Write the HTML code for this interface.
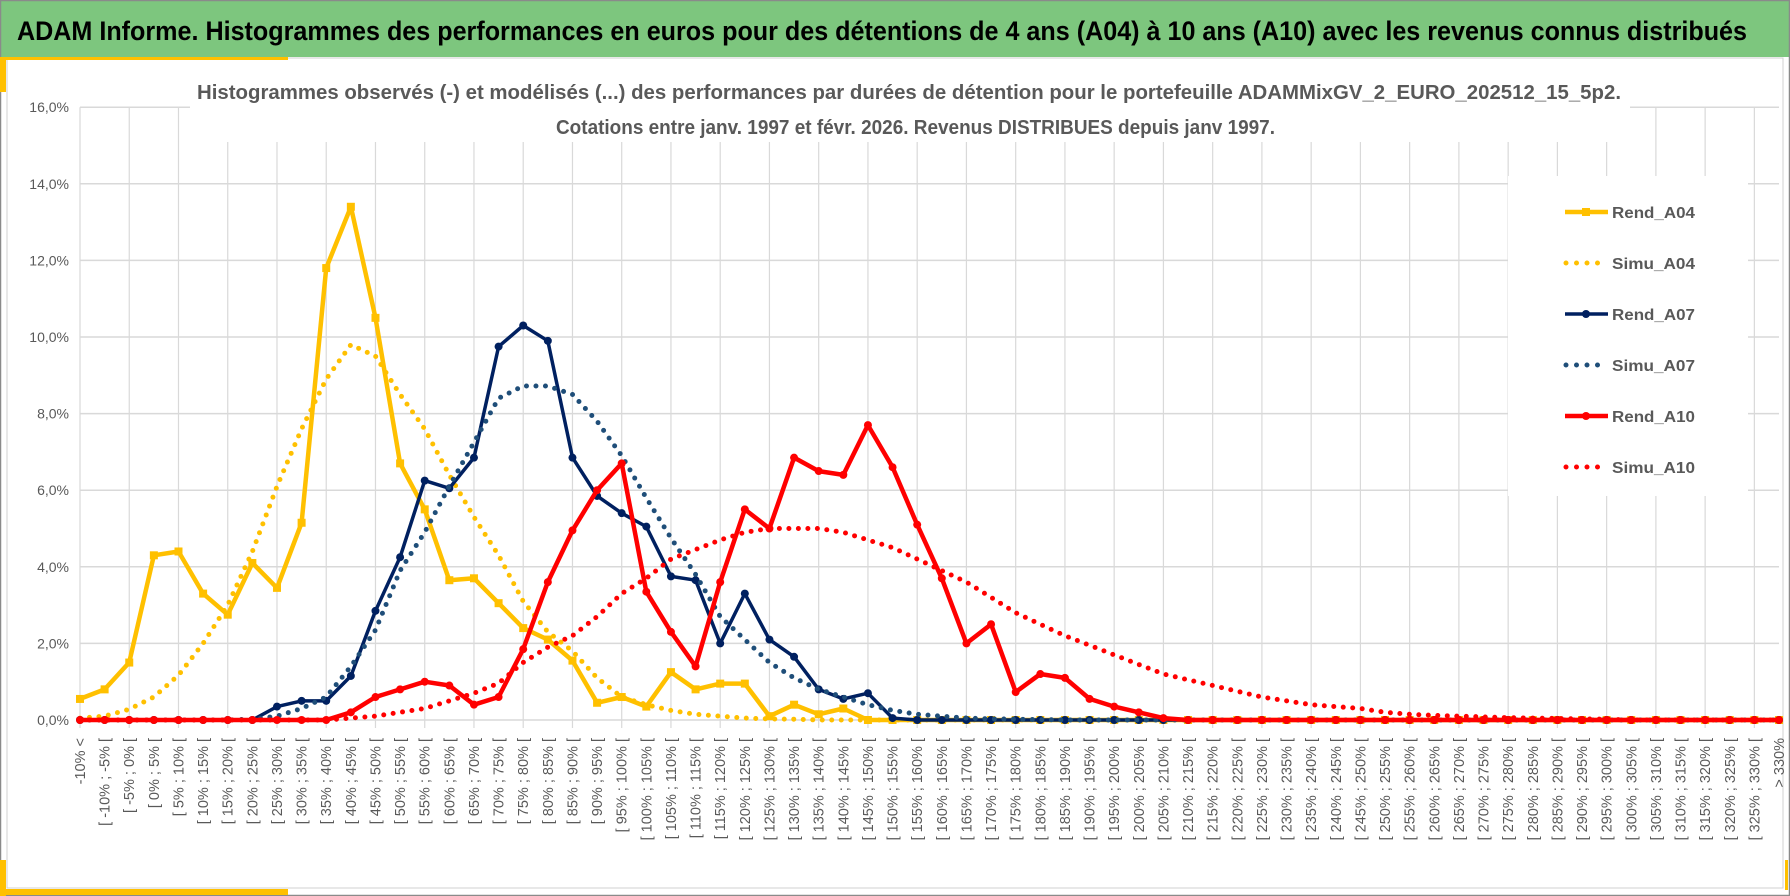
<!DOCTYPE html>
<html><head><meta charset="utf-8">
<style>
html,body{margin:0;padding:0;background:#fff;}
svg{display:block;font-family:"Liberation Sans",sans-serif;}
</style></head>
<body>
<svg id="chart" width="1790" height="896" viewBox="0 0 1790 896" xmlns="http://www.w3.org/2000/svg">
  <rect x="0" y="0" width="1790" height="896" fill="#fff"/>
  <rect x="0" y="0" width="1790" height="57" fill="#7DC67E"/>
  <text x="17" y="40" font-size="27" font-weight="bold" fill="#000" textLength="1730" lengthAdjust="spacingAndGlyphs">ADAM Informe. Histogrammes des performances en euros pour des détentions de 4 ans (A04) à 10 ans (A10) avec les revenus connus distribués</text>
  <rect x="0.5" y="0.5" width="1789" height="895" fill="none" stroke="#8a8a8a" stroke-width="1.5"/>
  <rect x="7" y="58" width="1776" height="830" fill="none" stroke="#d0d0d0" stroke-width="1"/>
  <rect x="0" y="57" width="288" height="3" fill="#FFC000"/>
  <rect x="0" y="57" width="6" height="35" fill="#FFC000"/>
  <rect x="0" y="889" width="288" height="6" fill="#FFC000"/>
  <rect x="0" y="860" width="6" height="36" fill="#FFC000"/>
  <rect x="1785" y="860" width="3" height="30" fill="#FFC000"/>
  <g id="grid"></g>
  <rect x="190" y="72" width="1440" height="70" fill="#fff"/>
  <text x="197" y="99" font-size="20" font-weight="bold" fill="#595959" textLength="1424" lengthAdjust="spacingAndGlyphs">Histogrammes observés (-) et modélisés (...) des performances par durées de détention pour le portefeuille ADAMMixGV_2_EURO_202512_15_5p2.</text>
  <text x="556" y="134" font-size="20" font-weight="bold" fill="#595959" textLength="719" lengthAdjust="spacingAndGlyphs">Cotations entre janv. 1997 et févr. 2026. Revenus DISTRIBUES depuis janv 1997.</text>
  <g id="yaxis"></g>
  <g id="xaxis"></g>
  <g id="series"></g>
  <g id="legend"></g>
</svg>
<script>
var rendA04 = [0.55,0.8,1.5,4.3,4.4,3.3,2.75,4.1,3.45,5.15,11.8,13.4,10.5,6.7,5.5,3.65,3.7,3.05,2.4,2.1,1.55,0.45,0.6,0.35,1.25,0.8,0.95,0.95,0.1,0.4,0.15,0.3,0,0];
var simuA04 = [0.05,0.1,0.28,0.6,1.17,2.0,3.0,4.4,6.1,7.6,8.9,9.8,9.5,8.5,7.6,6.4,5.3,4.3,3.1,2.3,1.8,1.1,0.6,0.4,0.25,0.15,0.1,0.05,0.03,0.02];
var rendA07 = [0,0,0,0,0,0,0,0,0.35,0.5,0.5,1.15,2.85,4.25,6.25,6.05,6.85,9.75,10.3,9.9,6.85,5.85,5.4,5.05,3.75,3.65,2.0,3.3,2.1,1.65,0.8,0.55,0.7,0.05,0,0,0,0,0,0,0,0,0,0,0,0];
var simuA07 = [0,0,0,0,0,0,0,0.02,0.1,0.3,0.6,1.4,2.35,3.9,4.9,6.1,7.25,8.4,8.72,8.72,8.5,7.8,6.9,5.8,4.75,3.8,2.7,2.1,1.5,1.1,0.8,0.6,0.4,0.25,0.15,0.1,0.05,0.03,0.02,0.01];
var rendA10 = [0,0,0,0,0,0,0,0,0,0,0,0.2,0.6,0.8,1.0,0.9,0.4,0.6,1.85,3.6,4.95,6.0,6.7,3.35,2.3,1.4,3.6,5.5,5.0,6.85,6.5,6.4,7.7,6.6,5.1,3.7,2.0,2.5,0.73,1.2,1.1,0.55,0.35,0.2,0.05,0,0,0,0,0,0,0,0,0,0,0,0,0,0,0,0,0,0,0,0,0,0,0,0,0];
var simuA10 = [0,0,0,0,0,0,0,0,0,0,0,0.05,0.1,0.2,0.3,0.5,0.7,0.96,1.5,1.9,2.2,2.7,3.3,3.7,4.2,4.45,4.7,4.9,5.0,5.0,5.0,4.9,4.7,4.5,4.2,3.9,3.6,3.2,2.8,2.5,2.2,1.95,1.7,1.45,1.2,1.05,0.9,0.75,0.6,0.5,0.4,0.35,0.3,0.2,0.15,0.12,0.1,0.08,0.06,0.05,0.04,0.03,0.02,0,0,0,0,0,0,0];
var yTicks = [0,2,4,6,8,10,12,14,16];
var seriesNames = ["Rend_A04","Simu_A04","Rend_A07","Simu_A07","Rend_A10","Simu_A10"];

var NS = "http://www.w3.org/2000/svg";
var categories = ["-10% <"];
for (var lo = -10; lo < 330; lo += 5) { categories.push("[ " + lo + "% ; " + (lo + 5) + "% ["); }
categories.push("> 330%");
var N = categories.length;
function xs(i){ return 80 + i * (1779 - 80) / (N - 1); }
function ys(v){ return 720 - v * 38.3; }
function mk(tag, attrs, parent){ var e = document.createElementNS(NS, tag); for (var k in attrs) e.setAttribute(k, attrs[k]); parent.appendChild(e); return e; }
function full(arr){ var out = []; for (var i = 0; i < N; i++) out.push(i < arr.length ? arr[i] : 0); return out; }

var grid = document.getElementById("grid");
for (var t = 0; t < yTicks.length; t++) {
  var gl = mk("line", {x1: 80, x2: 1779, y1: ys(yTicks[t]), y2: ys(yTicks[t]), stroke: "#d9d9d9", "stroke-width": 1.5}, grid);
  
  
}
for (var i = 0; i < N; i += 2) {
  var vl = mk("line", {x1: xs(i), x2: xs(i), y1: ys(16), y2: 728, stroke: "#d9d9d9", "stroke-width": 1.2}, grid);
  
  
}
var yaxis = document.getElementById("yaxis");
for (var t = 0; t < yTicks.length; t++) {
  var yl = mk("text", {x: 69, y: ys(yTicks[t]) + 5, "text-anchor": "end", "font-size": 14, fill: "#595959"}, yaxis);
  yl.textContent = yTicks[t].toFixed(1).replace(".", ",") + "%";
  
  
}
var xaxis = document.getElementById("xaxis");
for (var i = 0; i < N; i++) {
  var xl = mk("text", {transform: "translate(" + (xs(i) + 5) + ",738) rotate(-90)", "text-anchor": "end", "font-size": 14.5, fill: "#595959"}, xaxis);
  xl.textContent = categories[i];
  
  
}

var seriesG = document.getElementById("series");
function pts(arr){ var a = full(arr), s = []; for (var i = 0; i < N; i++) s.push(xs(i).toFixed(1) + "," + ys(a[i]).toFixed(1)); return s.join(" "); }
function drawSolid(arr, color, width, marker, name){
  var g = mk("g", {}, seriesG);
  
  
  var pl = mk("polyline", {points: pts(arr), fill: "none", stroke: color, "stroke-width": width, "stroke-linejoin": "round"}, g);
  
  
  var a = full(arr);
  for (var i = 0; i < N; i++) {
    var m;
    if (marker === "square") m = mk("rect", {x: xs(i) - 4, y: ys(a[i]) - 4, width: 8, height: 8, fill: color}, g);
    else m = mk("circle", {cx: xs(i), cy: ys(a[i]), r: 4, fill: color}, g);
    
    
  }
}
function drawDotted(arr, color, name){
  var pl = mk("polyline", {points: pts(arr), fill: "none", stroke: color, "stroke-width": 5, "stroke-linecap": "round", "stroke-dasharray": "0 9.5"}, seriesG);
  
  
}
drawSolid(rendA04, "#FFC000", 4.5, "square", "rend-a04");
drawDotted(simuA04, "#FFC000", "simu-a04");
drawSolid(rendA07, "#002060", 3.5, "circle", "rend-a07");
drawDotted(simuA07, "#1F4E79", "simu-a07");
drawSolid(rendA10, "#FF0000", 4.5, "circle", "rend-a10");
drawDotted(simuA10, "#FF0000", "simu-a10");

var leg = document.getElementById("legend");
var lbg = mk("rect", {x: 1508, y: 176, width: 240, height: 320, fill: "#fff"}, leg);


var legColors = ["#FFC000","#FFC000","#002060","#1F4E79","#FF0000","#FF0000"];
for (var k = 0; k < seriesNames.length; k++) {
  var y = 212 + k * 51;
  var eg = mk("g", {}, leg);
  
  
  if (k % 2 === 0) {
    mk("line", {x1: 1565, x2: 1608, y1: y, y2: y, stroke: legColors[k], "stroke-width": k === 2 ? 3.5 : 4.5}, eg);
    if (k === 0) mk("rect", {x: 1582, y: y - 4, width: 8, height: 8, fill: legColors[k]}, eg);
    else mk("circle", {cx: 1586, cy: y, r: 4, fill: legColors[k]}, eg);
  } else {
    mk("line", {x1: 1566, x2: 1607, y1: y, y2: y, stroke: legColors[k], "stroke-width": 5, "stroke-linecap": "round", "stroke-dasharray": "0 10.5"}, eg);
  }
  var lt = mk("text", {x: 1612, y: y + 6, "font-size": 16, "font-weight": "bold", fill: "#595959", textLength: 83, lengthAdjust: "spacingAndGlyphs"}, eg);
  lt.textContent = seriesNames[k];
  
  
}
</script>
</body></html>
